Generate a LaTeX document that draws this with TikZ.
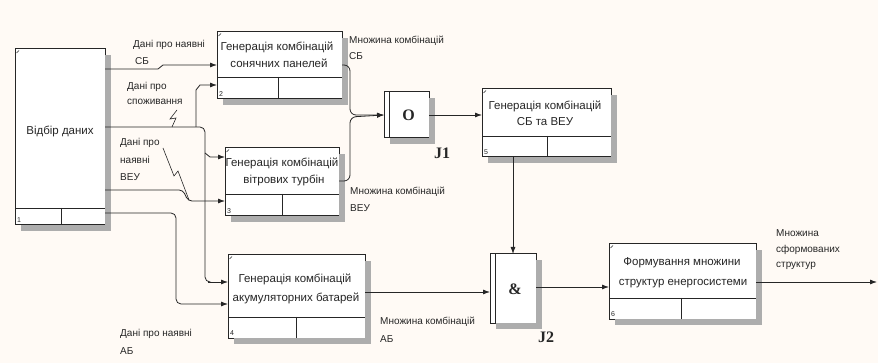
\documentclass[tikz,border=0pt]{standalone}
\usepackage{fontspec}
\setmainfont{Liberation Sans}
\newfontfamily\jfont{Liberation Serif}
\usetikzlibrary{arrows.meta,calc}

\colorlet{paper}{orange!4!white}
\colorlet{ink}{black!85}
\colorlet{shadowgray}{black!32}

\tikzset{
  procbox/.style={draw=ink, line width=1pt, fill=white, anchor=north west,
    inner sep=0pt, outer sep=0pt},
  boxtext/.style={font=\fontsize{11.5}{13}\selectfont, text=ink, inner sep=0pt},
  lbl/.style={font=\fontsize{10}{12}\selectfont, text=ink, inner sep=0pt, anchor=west},
  numtext/.style={font=\fontsize{7}{8}\selectfont, text=ink, inner sep=2pt, anchor=south west},
  flow/.style={draw=ink, line width=0.8pt, -{Latex[length=7pt,width=5pt]}},
  wire/.style={draw=ink, line width=0.8pt},
  bolt/.style={draw=ink, line width=0.6pt},
  jtext/.style={font=\jfont\bfseries\fontsize{16}{18}\selectfont, text=ink, inner sep=0pt},
}

% drop shadow along the right and bottom sides of a box
\newcommand\dropshadow[1]{%
  \fill[shadowgray] ($(#1.north east)+(0,6)$) rectangle ($(#1.south east)+(6,6)$);
  \fill[shadowgray] ($(#1.south west)+(6,0)$) rectangle ($(#1.south east)+(6,6)$);
}

% activity box: name, x1, y1, x2, y2, strip top, divider x, number
\newcommand\idefbox[8]{%
  \node[procbox, minimum width={(#4-#2)*1pt}, minimum height={(#5-#3)*1pt}] (#1) at (#2,#3) {};
  \dropshadow{#1}
  \draw[wire] (#1.west |- 0,#6) -- (#1.east |- 0,#6);
  \draw[wire] (#7,#6) -- (#1.south -| #7,0);
  \draw[ink, line width=0.5pt] ($(#1.north west)+(1.5,4)$) -- ($(#1.north west)+(4,1.5)$);
  \node[numtext] (#1-num) at (#1.south west) {#8};
}

\begin{document}
\begin{tikzpicture}[x=1pt, y=-1pt]
  % page
  \fill[paper] (0,0) rectangle (878,363);
  \useasboundingbox (0,0) rectangle (878,363);

  % activity boxes
  \idefbox{b1}{15}{49}{105}{225}{208}{61}{1}
  \idefbox{b2}{217}{32}{342}{99}{77}{278}{2}
  \idefbox{b3}{225}{148}{339}{216}{194}{282}{3}
  \idefbox{b4}{228}{255}{365}{338}{317}{296}{4}
  \idefbox{b5}{482}{89}{611}{157}{136}{547}{5}
  \idefbox{b6}{609}{244}{756}{319}{298}{681}{6}

  \node[boxtext] (t1) at (60,131) {Відбір даних};
  \node[boxtext] (t2a) at (277,47) {Генерація комбінацій};
  \node[boxtext] (t2b) at (279,63) {сонячних панелей};
  \node[boxtext] (t3a) at (282,163) {Генерація комбінацій};
  \node[boxtext] (t3b) at (284,180) {вітрових турбін};
  \node[boxtext] (t4a) at (295,279) {Генерація комбінацій};
  \node[boxtext] (t4b) at (296,298) {акумуляторних батарей};
  \node[boxtext] (t5a) at (545,106) {Генерація комбінацій};
  \node[boxtext] (t5b) at (545,122) {СБ та ВЕУ};
  \node[boxtext] (t6a) at (682,263) {Формування множини};
  \node[boxtext] (t6b) at (683,284) {структур енергосистеми};

  % junctions
  \node[procbox, minimum width=45pt, minimum height=46pt] (j1) at (384,92) {};
  \dropshadow{j1}
  \draw[wire] ($(j1.north west)+(5,0)$) -- ($(j1.south west)+(5,0)$);
  \node[jtext] (j1sym) at ($(j1.center)+(2,0)$) {O};
  \node[jtext] (j1name) at (442,153) {J1};

  \node[procbox, minimum width=46pt, minimum height=69pt] (j2) at (490,254) {};
  \dropshadow{j2}
  \draw[wire] ($(j2.north west)+(5,0)$) -- ($(j2.south west)+(5,0)$);
  \node[jtext] (j2sym) at ($(j2.center)+(2,1)$) {\&};
  \node[jtext] (j2name) at (546,337) {J2};

  % inputs from data selection
  \draw[flow] (b1.east |- 0,69) -- (158,69) -- (163,65) -- (b2.west |- 0,65);
  \draw[wire, rounded corners=5] (b1.east |- 0,127) -- (205,127) -- (205,282) -- (208,282);
  \draw[flow] (208,282) -- (b4.west |- 0,282);
  \draw[flow] (196,127) -- (196,90) -- (200,85) -- (b2.west |- 0,85);
  \draw[flow] (205,153) -- (210,157) -- (b3.west |- 0,157);
  \draw[flow, rounded corners=4] (b1.east |- 0,190) -- (183,190) -- (188,201) -- (b3.west |- 0,201);
  \draw[flow, rounded corners=5] (b1.east |- 0,213) -- (176,213) -- (176,304) -- (b4.west |- 0,304);

  % squiggles tying labels to their arrows
  \draw[bolt] (177,110) -- (170,119) -- (176,118) -- (172,127);
  \draw[bolt] (163,148) -- (174,176) -- (178,171) -- (189,200);

  % outputs into junction J1
  \draw[flow, rounded corners=6] (b2.east |- 0,65) -- (350,65) -- (350,115) -- (j1.west);
  \draw[flow, rounded corners=6] (b3.east |- 0,181) -- (350,181) -- (350,117) -- (j1.west);
  \draw[flow] (j1.east) -- (j1.east -| b5.west);

  % into junction J2 and on
  \draw[flow] (b5.south -| j2.north) -- (j2.north);
  \draw[flow] (b4.east |- 0,292) -- (j2.west |- 0,292);
  \draw[flow] (j2.east |- 0,287) -- (b6.west |- 0,287);
  \coordinate (out) at (877,282);
  \draw[flow] (b6.east |- 0,282) -- (out);

  % arrow labels
  \node[lbl] (l1a) at (133,45) {Дані про наявні};
  \node[lbl] (l1b) at (135,61) {СБ};
  \node[lbl] (l2a) at (127,87) {Дані про};
  \node[lbl] (l2b) at (127,102) {споживання};
  \node[lbl] (l3a) at (120,143) {Дані про};
  \node[lbl] (l3b) at (120,160) {наявні};
  \node[lbl] (l3c) at (120,177) {ВЕУ};
  \node[lbl] (l4a) at (120,334) {Дані про наявні};
  \node[lbl] (l4b) at (120,351) {АБ};
  \node[lbl] (m1a) at (349,41) {Множина комбінацій};
  \node[lbl] (m1b) at (349,56) {СБ};
  \node[lbl] (m2a) at (350,192) {Множина комбінацій};
  \node[lbl] (m2b) at (350,208) {ВЕУ};
  \node[lbl] (m3a) at (380,322) {Множина комбінацій};
  \node[lbl] (m3b) at (380,339) {АБ};
  \node[lbl] (m4a) at (776,233) {Множина};
  \node[lbl] (m4b) at (776,250) {сформованих};
  \node[lbl] (m4c) at (776,266) {структур};
\end{tikzpicture}
\end{document}
